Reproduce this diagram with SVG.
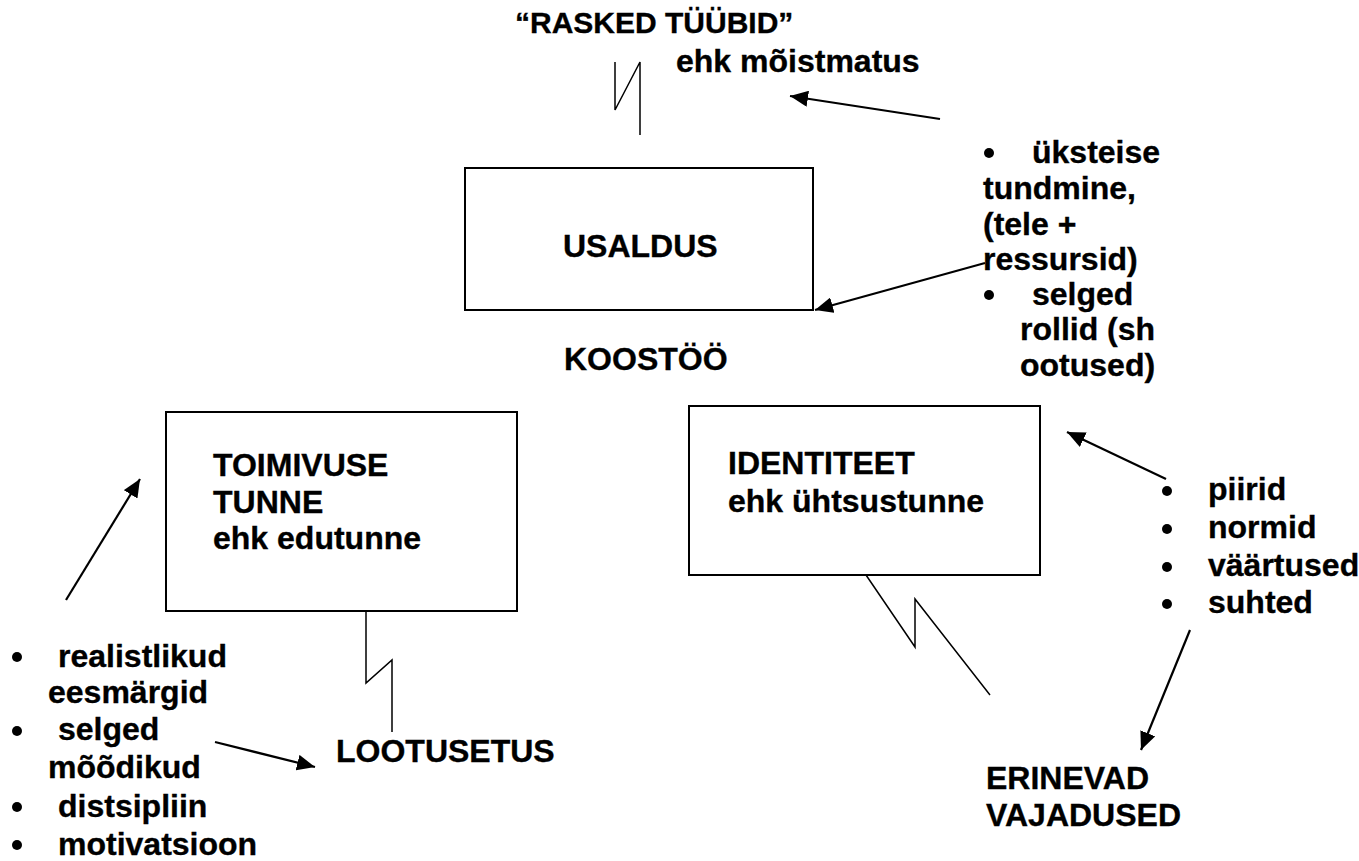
<svg xmlns="http://www.w3.org/2000/svg" width="1359" height="861" viewBox="0 0 1359 861">
<defs>
<style>
text{font-family:"Liberation Sans",Arial,sans-serif;font-weight:bold;font-size:32px;fill:#000;stroke:#000;stroke-width:0.35}
.t30{font-size:30px}
.box{fill:#fff;stroke:#000;stroke-width:2}
.zig{fill:none;stroke:#000;stroke-width:1.5}
.arr{fill:none;stroke:#000;stroke-width:2.2;marker-end:url(#ah)}
.dot{fill:#000}
</style>
<marker id="ah" markerUnits="userSpaceOnUse" markerWidth="20" markerHeight="16" refX="18" refY="8" orient="auto">
<path d="M0,0 L18,8 L0,16 Z" fill="#000"/>
</marker>
</defs>
<rect width="1359" height="861" fill="#fff"/>

<g id="raske">
<text class="t30" x="515" y="33">“RASKED TÜÜBID”</text>
<text x="676" y="72">ehk mõistmatus</text>
</g>

<g id="usaldus">
<rect class="box" x="465" y="168" width="348" height="142"/>
<text x="563" y="257">USALDUS</text>
</g>

<g id="koostoo">
<text x="564" y="370">KOOSTÖÖ</text>
</g>

<g id="toimivus">
<rect class="box" x="166" y="412" width="351" height="199"/>
<text x="213" y="476">TOIMIVUSE</text>
<text x="213" y="513">TUNNE</text>
<text x="213" y="549">ehk edutunne</text>
</g>

<g id="identiteet">
<rect class="box" x="689" y="406" width="351" height="169"/>
<text x="728" y="474">IDENTITEET</text>
<text x="728" y="512">ehk ühtsustunne</text>
</g>

<g id="lootusetus">
<text x="336" y="762">LOOTUSETUS</text>
</g>

<g id="erinevad">
<text x="986" y="789">ERINEVAD</text>
<text x="986" y="826">VAJADUSED</text>
</g>

<g id="list-usaldus">
<circle class="dot" cx="989" cy="153" r="5"/>
<text x="1032" y="163">üksteise</text>
<text x="983" y="199">tundmine,</text>
<text x="983" y="235">(tele +</text>
<text x="983" y="270">ressursid)</text>
<circle class="dot" cx="989" cy="295" r="5"/>
<text x="1032" y="305">selged</text>
<text x="1020" y="340">rollid (sh</text>
<text x="1020" y="376">ootused)</text>
</g>

<g id="list-identiteet">
<circle class="dot" cx="1167" cy="491" r="5"/>
<text x="1208" y="500">piirid</text>
<circle class="dot" cx="1167" cy="529" r="5"/>
<text x="1208" y="538">normid</text>
<circle class="dot" cx="1167" cy="567" r="5"/>
<text x="1208" y="576">väärtused</text>
<circle class="dot" cx="1167" cy="604" r="5"/>
<text x="1208" y="613">suhted</text>
</g>

<g id="list-toimivus">
<circle class="dot" cx="17" cy="657" r="5"/>
<text x="58" y="667">realistlikud</text>
<text x="48" y="703">eesmärgid</text>
<circle class="dot" cx="17" cy="731" r="5"/>
<text x="58" y="740">selged</text>
<text x="48" y="778">mõõdikud</text>
<circle class="dot" cx="17" cy="807" r="5"/>
<text x="58" y="817">distsipliin</text>
<circle class="dot" cx="17" cy="845" r="5"/>
<text x="58" y="855">motivatsioon</text>
</g>

<g id="connectors">
<path class="zig" d="M615,62 L615,110 L640,62 L640,135"/>
<path class="zig" d="M366,611 L366,683 L392,660 L392,732"/>
<path class="zig" d="M866,575 L915,647 L915,599 L990,695"/>
<line class="arr" x1="940" y1="119" x2="790" y2="96"/>
<line class="arr" x1="985" y1="263" x2="815" y2="310"/>
<line class="arr" x1="215" y1="742" x2="315" y2="767"/>
<line class="arr" x1="66" y1="600" x2="140" y2="479"/>
<line class="arr" x1="1166" y1="479" x2="1067" y2="432"/>
<line class="arr" x1="1190" y1="630" x2="1141" y2="750"/>
</g>
</svg>
